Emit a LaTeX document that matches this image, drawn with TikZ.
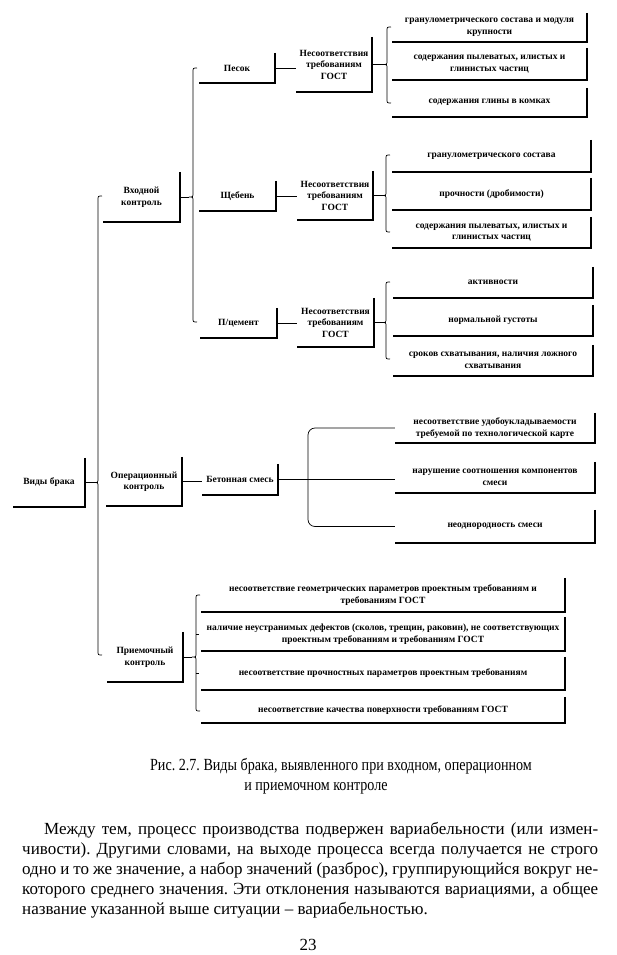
\documentclass[tikz,border=0pt]{standalone}
\usepackage{fontspec}
\setmainfont{Liberation Serif}
\newfontfamily\capfont{Liberation Serif}[FakeStretch=0.83]
\frenchspacing
\newcommand{\kbrace}[5]{%
  \draw[brc] (#2+4,#3) .. controls (#2,#3) .. (#2,#3+4) -- (#2,#4-4) .. controls (#2,#4) .. (#2-4,#4) .. controls (#2,#4) .. (#2,#4+4) -- (#2,#5-4) .. controls (#2,#5) .. (#2+4,#5);
  \coordinate (#1) at (#2-4,#4);}

\begin{document}
\begin{tikzpicture}[x=1pt, y=-1pt,
  lbl/.style={font=\fontsize{9.5}{11.5}\selectfont\bfseries, align=center, inner sep=0pt},
  shd/.style={line width=1.6pt},
  con/.style={line width=0.7pt},
  brc/.style={line width=0.7pt}]
\useasboundingbox (0,0) rectangle (617,955);
\node[lbl, minimum width=72pt, minimum height=49pt] (vb) at (49,482.5) {Виды брака};
\node[lbl, minimum width=77pt, minimum height=50pt] (vk) at (141.5,197) {Входной\\контроль};
\node[lbl, minimum width=76pt, minimum height=49pt] (ok) at (144,481.5) {Операционный\\контроль};
\node[lbl, minimum width=76pt, minimum height=50pt] (pk) at (145,657) {Приемочный\\контроль};
\node[lbl, minimum width=76pt, minimum height=30pt] (pes) at (237,68) {Песок};
\node[lbl, minimum width=77pt, minimum height=30pt] (sch) at (237.5,196) {Щебень};
\node[lbl, minimum width=77pt, minimum height=30pt] (cem) at (238.5,323) {П/цемент};
\node[lbl, minimum width=76pt, minimum height=31pt] (bs) at (240,479.5) {Бетонная смесь};
\node[lbl, minimum width=76pt, minimum height=55pt] (g1) at (334,64.5) {Несоответствия\\требованиям\\ГОСТ};
\node[lbl, minimum width=76pt, minimum height=49pt] (g2) at (335,195.5) {Несоответствия\\требованиям\\ГОСТ};
\node[lbl, minimum width=77pt, minimum height=49pt] (g3) at (335.5,322.5) {Несоответствия\\требованиям\\ГОСТ};
\node[lbl, minimum width=195pt, minimum height=29pt] (p1) at (489.5,27.5) {гранулометрического состава и модуля\\крупности};
\node[lbl, minimum width=195pt, minimum height=32pt] (p2) at (489.5,64) {содержания пылеватых, илистых и\\глинистых частиц};
\node[lbl, minimum width=195pt, minimum height=29pt] (p3) at (489.5,102.5) {содержания глины в комках};
\node[lbl, minimum width=199pt, minimum height=32pt] (s1) at (491.5,156) {гранулометрического состава};
\node[lbl, minimum width=199pt, minimum height=32pt] (s2) at (491.5,194) {прочности (дробимости)};
\node[lbl, minimum width=199pt, minimum height=31pt] (s3) at (491.5,232.5) {содержания пылеватых, илистых и\\глинистых частиц};
\node[lbl, minimum width=200pt, minimum height=31pt] (c1) at (493,282.5) {активности};
\node[lbl, minimum width=200pt, minimum height=31pt] (c2) at (493,320.5) {нормальной густоты};
\node[lbl, minimum width=200pt, minimum height=31pt] (c3) at (493,360.5) {сроков схватывания, наличия ложного\\схватывания};
\node[lbl, minimum width=200pt, minimum height=30pt] (b1) at (495,428) {несоответствие удобоукладываемости\\требуемой по технологической карте};
\node[lbl, minimum width=200pt, minimum height=31pt] (b2) at (495,477.5) {нарушение соотношения компонентов\\смеси};
\node[lbl, minimum width=200pt, minimum height=33pt] (b3) at (495,526.5) {неоднородность смеси};
\node[lbl, minimum width=364pt, minimum height=34pt] (a1) at (383,595) {несоответствие геометрических параметров проектным требованиям и\\требованиям ГОСТ};
\node[lbl, minimum width=364pt, minimum height=34pt] (a2) at (383,634) {наличие неустранимых дефектов (сколов, трещин, раковин), не соответствующих\\проектным требованиям и требованиям ГОСТ};
\node[lbl, minimum width=364pt, minimum height=33pt] (a3) at (383,673.5) {несоответствие прочностных параметров проектным требованиям};
\node[lbl, minimum width=364pt, minimum height=26pt] (a4) at (383,710) {несоответствие качества поверхности требованиям ГОСТ};
\draw[shd] (vb.north east) -- (vb.south east) -- (vb.south west);
\draw[shd] (vk.north east) -- (vk.south east) -- (vk.south west);
\draw[shd] (ok.north east) -- (ok.south east) -- (ok.south west);
\draw[shd] (pk.north east) -- (pk.south east) -- (pk.south west);
\draw[shd] (pes.north east) -- (pes.south east) -- (pes.south west);
\draw[shd] (sch.north east) -- (sch.south east) -- (sch.south west);
\draw[shd] (cem.north east) -- (cem.south east) -- (cem.south west);
\draw[shd] (bs.north east) -- (bs.south east) -- (bs.south west);
\draw[shd] (g1.north east) -- (g1.south east) -- (g1.south west);
\draw[shd] (g2.north east) -- (g2.south east) -- (g2.south west);
\draw[shd] (g3.north east) -- (g3.south east) -- (g3.south west);
\draw[shd] (p1.north east) -- (p1.south east) -- (p1.south west);
\draw[shd] (p2.north east) -- (p2.south east) -- (p2.south west);
\draw[shd] (p3.north east) -- (p3.south east) -- (p3.south west);
\draw[shd] (s1.north east) -- (s1.south east) -- (s1.south west);
\draw[shd] (s2.north east) -- (s2.south east) -- (s2.south west);
\draw[shd] (s3.north east) -- (s3.south east) -- (s3.south west);
\draw[shd] (c1.north east) -- (c1.south east) -- (c1.south west);
\draw[shd] (c2.north east) -- (c2.south east) -- (c2.south west);
\draw[shd] (c3.north east) -- (c3.south east) -- (c3.south west);
\draw[shd] (b1.north east) -- (b1.south east) -- (b1.south west);
\draw[shd] (b2.north east) -- (b2.south east) -- (b2.south west);
\draw[shd] (b3.north east) -- (b3.south east) -- (b3.south west);
\draw[shd] (a1.north east) -- (a1.south east) -- (a1.south west);
\draw[shd] (a2.north east) -- (a2.south east) -- (a2.south west);
\draw[shd] (a3.north east) -- (a3.south east) -- (a3.south west);
\draw[shd] (a4.north east) -- (a4.south east) -- (a4.south west);
\kbrace{t0}{98}{196}{482.5}{655}
\kbrace{t1}{193}{68}{197}{322}
\kbrace{t2}{387}{27}{64.5}{103}
\kbrace{t3}{386}{155}{195.5}{232}
\kbrace{t4}{386}{282}{322.5}{359}
\kbrace{t5}{196}{595}{657}{711}
\draw[brc] (196,634) -- (199,634);
\draw[brc] (196,673.5) -- (199,673.5);
\draw[con] (vb.east) -- (t0);
\draw[con] (vk.east) -- (t1);
\draw[con] (pk.east) -- (t5);
\draw[con] (pes.east) -- (pes.east -| g1.west);
\draw[con] (sch.east) -- (sch.east -| g2.west);
\draw[con] (cem.east) -- (cem.east -| g3.west);
\draw[con] (g1.east) -- (t2);
\draw[con] (g2.east) -- (t3);
\draw[con] (g3.east) -- (t4);
\draw[con] (ok.east) -- (ok.east -| bs.west);
\draw[con] (bs.east) -- (bs.east -| b2.west);
\coordinate (tb) at (308,479.5);
\draw[con, rounded corners=7pt] (b1.west) -| (tb) |- (b3.west);
\node[align=center, font=\capfont\fontsize{17}{20}\selectfont] (cap) at (316,776) {\hspace*{50pt}Рис. 2.7. Виды брака, выявленного при входном, операционном\\и приемочном контроле};
\node[anchor=north west, align=left, inner sep=0pt, font=\fontsize{17}{20}\selectfont] (txt) at (22,822) {\makebox[576pt][s]{\hspace*{22pt}Между тем, процесс производства подвержен вариабельности (или измен-}\\
\makebox[576pt][s]{чивости). Другими словами, на выходе процесса всегда получается не строго}\\
\makebox[576pt][s]{одно и то же значение, а набор значений (разброс), группирующийся вокруг не-}\\
\makebox[576pt][s]{которого среднего значения. Эти отклонения называются вариациями, а общее}\\
название указанной выше ситуации – вариабельностью.};
\node[font=\fontsize{17}{20}\selectfont] (pg) at (308,945) {23};
\end{tikzpicture}
\end{document}
